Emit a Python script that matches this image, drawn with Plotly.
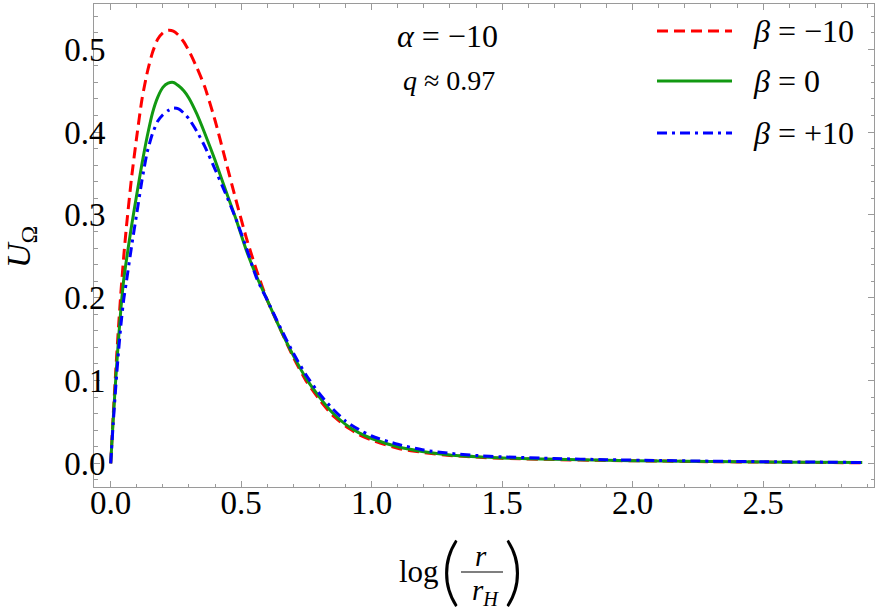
import plotly.graph_objects as go

# log(r/r_H) grid and U_Omega values
log_r = [0.0, 0.01, 0.02, 0.03, 0.04, 0.05, 0.06, 0.08, 0.10, 0.12, 0.14, 0.16,
         0.18, 0.20, 0.22, 0.24, 0.26, 0.28, 0.30, 0.33, 0.36, 0.40, 0.44, 0.48,
         0.52, 0.56, 0.60, 0.65, 0.70, 0.75, 0.80, 0.85, 0.90, 0.95, 1.0, 1.1,
         1.2, 1.3, 1.4, 1.5, 1.7, 1.9, 2.1, 2.3, 2.5, 2.7, 2.88]

u_beta_m10 = [0.0, 0.06, 0.115, 0.165, 0.21, 0.25, 0.285, 0.345, 0.395, 0.44,
              0.472, 0.496, 0.512, 0.520, 0.523, 0.522, 0.517, 0.509, 0.498,
              0.478, 0.455, 0.414, 0.366, 0.318, 0.272, 0.232, 0.197, 0.162,
              0.128, 0.099, 0.077, 0.058, 0.045, 0.035, 0.028, 0.018, 0.013,
              0.0095, 0.0075, 0.006, 0.0045, 0.0035, 0.0027, 0.002, 0.0015,
              0.001, 0.0007]

u_beta_0 = [0.0, 0.055, 0.105, 0.15, 0.19, 0.222, 0.245, 0.287, 0.325, 0.362,
            0.395, 0.423, 0.442, 0.454, 0.459, 0.460, 0.456, 0.450, 0.441,
            0.422, 0.399, 0.366, 0.330, 0.295, 0.257, 0.225, 0.197, 0.162,
            0.130, 0.102, 0.080, 0.061, 0.047, 0.037, 0.030, 0.020, 0.014,
            0.010, 0.008, 0.0065, 0.0048, 0.0037, 0.0028, 0.0021, 0.0016,
            0.0012, 0.0009]

u_beta_p10 = [0.0, 0.05, 0.095, 0.135, 0.17, 0.198, 0.219, 0.262, 0.302, 0.342,
              0.376, 0.398, 0.413, 0.421, 0.426, 0.429, 0.428, 0.423, 0.416,
              0.401, 0.383, 0.355, 0.326, 0.295, 0.260, 0.223, 0.197, 0.164,
              0.133, 0.106, 0.084, 0.066, 0.051, 0.041, 0.033, 0.023, 0.016,
              0.012, 0.0095, 0.0078, 0.0058, 0.0044, 0.0034, 0.0026, 0.002,
              0.0015, 0.001]

colors = ["#ff0000", "#129912", "#0000ff"]
dashes = ["11px,6px", "solid", "10px,5px,3px,5px"]
series = [u_beta_m10, u_beta_0, u_beta_p10]

FONT = "Liberation Serif"

fig = go.Figure()
for ys, c, d in zip(series, colors, dashes):
    fig.add_trace(go.Scatter(x=log_r, y=ys, mode="lines",
                             line=dict(color=c, width=3, dash=d,
                                       shape="spline", smoothing=0.6),
                             showlegend=False, hoverinfo="skip"))

# plot frame in pixels: left 94, right 874, top 4, bottom 487
L, R, T, B = 94, 874, 4, 487


def px(x):
    return (x - L) / (R - L)


def py(y):
    return (B - y) / (B - T)


def label(x, y, text, size, family=FONT, weight="normal", **kw):
    fig.add_annotation(x=px(x), y=py(y), xref="paper", yref="paper",
                       text=text, showarrow=False,
                       xanchor=kw.pop("xanchor", "center"), yanchor="middle",
                       font=dict(size=size, color="black", family=family,
                                 weight=weight), **kw)


# hand-made legend
leg_y = [31, 81, 133]
leg_txt = ["<i>\u03b2</i> = \u221210", "<i>\u03b2</i> = 0", "<i>\u03b2</i> = +10"]
for yy, c, d, t in zip(leg_y, colors, dashes, leg_txt):
    fig.add_shape(type="line", xref="paper", yref="paper",
                  x0=px(657), x1=px(732), y0=py(yy), y1=py(yy),
                  line=dict(color=c, width=3, dash=d))
    label(751, yy, t, 32, xanchor="left")

label(447, 36, "<i>\u03b1</i> = \u221210", 32)
label(449, 80, "<i>q</i> \u2248 0.97", 28)

# y title
label(21, 247, "<i>U</i><sub>\u03a9</sub>", 34, textangle=-90)

# x title: log( r / r_H )
label(419, 571, "log", 31)
label(450, 568, "(", 74, family="Lato", weight=300)
label(513, 568, ")", 74, family="Lato", weight=300)
label(481, 556, "<i>r</i>", 29)
label(485, 592, "<i>r</i><sub><i>H</i></sub>", 29)
fig.add_shape(type="line", xref="paper", yref="paper",
              x0=px(461), x1=px(503), y0=py(572), y1=py(572),
              line=dict(color="black", width=1.2))

axis_common = dict(showline=True, linecolor="#9a9a9a", linewidth=1,
                   mirror="allticks", ticks="inside", tickcolor="#9a9a9a",
                   ticklen=6, tickwidth=1, showgrid=False, zeroline=False,
                   tickformat=".1f", automargin=False,
                   tickfont=dict(family=FONT, size=33, color="black"))

fig.update_xaxes(range=[-0.064, 2.925], tick0=0, dtick=0.5,
                 ticklabelstandoff=-14,
                 minor=dict(dtick=0.1, ticks="inside", ticklen=3.5,
                            tickcolor="#9a9a9a", showgrid=False),
                 **axis_common)
fig.update_yaxes(range=[-0.0286, 0.5547], tick0=0, dtick=0.1,
                 ticklabelstandoff=-19,
                 minor=dict(dtick=0.02, ticks="inside", ticklen=3.5,
                            tickcolor="#9a9a9a", showgrid=False),
                 **axis_common)

fig.update_layout(width=881, height=612, autosize=False,
                  margin=dict(l=L, r=881 - R, t=T, b=612 - B),
                  plot_bgcolor="white", paper_bgcolor="white",
                  font=dict(family=FONT, color="black"))

fig.write_html("out.html", config={"displayModeBar": False},
               post_script="document.body.style.margin='0';"
                           "document.body.style.padding='0';")
